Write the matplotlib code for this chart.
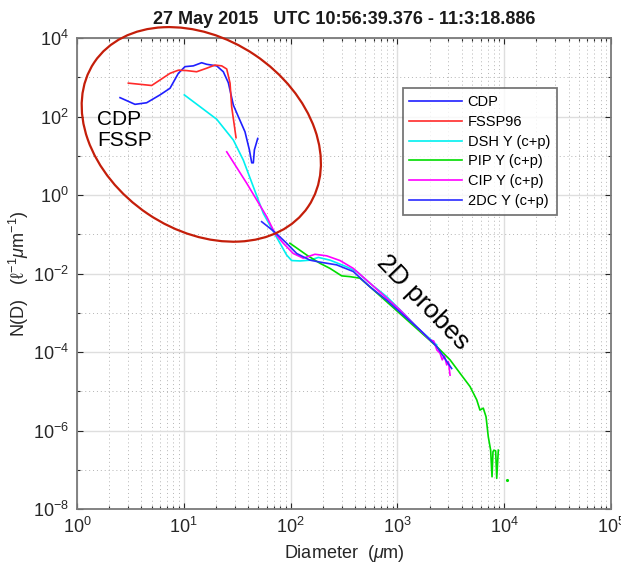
import numpy as np
import matplotlib
matplotlib.use("Agg")
import matplotlib.pyplot as plt
from matplotlib.patches import Ellipse
from matplotlib.ticker import LogLocator, NullFormatter

plt.rcParams["font.family"] = ["Liberation Sans", "DejaVu Sans"]
plt.rcParams["mathtext.fontset"] = "custom"
plt.rcParams["mathtext.rm"] = "Liberation Sans"
plt.rcParams["mathtext.it"] = "Liberation Sans:italic"
plt.rcParams["mathtext.default"] = "regular"

# ---- size distributions: log10(diameter / um) and log10(N(D)) ----
cdp_logd = [0.403, 0.543, 0.652, 0.777, 0.871, 0.949, 1.011, 1.089, 1.167, 1.214,
            1.308, 1.370, 1.417, 1.464, 1.510, 1.573, 1.614, 1.636, 1.651, 1.661, 1.692]
cdp_logn = [2.48, 2.31, 2.35, 2.55, 2.72, 3.10, 3.27, 3.29, 3.37, 3.33,
            3.29, 3.14, 2.86, 2.29, 2.00, 1.61, 1.15, 0.82, 0.82, 1.15, 1.44]

fssp_logd = [0.481, 0.699, 0.777, 0.871, 0.949, 1.027, 1.120, 1.214, 1.292, 1.355,
             1.402, 1.433, 1.448, 1.470, 1.489]
fssp_logn = [2.85, 2.79, 2.93, 3.10, 3.18, 3.17, 3.14, 3.23, 3.31, 3.29,
             3.21, 2.85, 2.25, 1.83, 1.46]

dsh_logd = [1.005, 1.152, 1.308, 1.464, 1.557, 1.651, 1.745, 1.838, 1.901, 1.963,
            2.010, 2.088, 2.182, 2.260, 2.369, 2.525, 2.619, 2.743, 2.900, 3.056,
            3.212, 3.368]
dsh_logn = [2.55, 2.25, 1.93, 1.40, 0.89, 0.21, -0.47, -0.93, -1.23, -1.53,
            -1.67, -1.68, -1.66, -1.59, -1.66, -1.83, -1.95, -2.25, -2.59, -3.01,
            -3.44, -3.82]

pip_logd = [1.994, 2.151, 2.275, 2.369, 2.478, 2.556, 2.650, 2.743, 2.900, 3.056,
            3.212, 3.368, 3.493, 3.586, 3.680, 3.743, 3.773, 3.804, 3.830, 3.851,
            3.873, 3.886, 3.895, 3.904, 3.920, 3.930, 3.945, np.nan, 4.029]
pip_logn = [-1.23, -1.53, -1.74, -1.87, -2.06, -2.08, -2.12, -2.34, -2.72, -3.10,
            -3.48, -3.86, -4.20, -4.54, -4.88, -5.22, -5.48, -5.43, -5.65, -6.16,
            -6.50, -7.18, -6.54, -6.50, -6.52, -7.22, -6.50, np.nan, -7.26]

cip_logd = [1.402, 1.589, 1.776, 1.854, 1.932, 2.025, 2.119, 2.228, 2.338, 2.463,
            2.587, 2.712, 2.868, 3.024, 3.180, 3.305, 3.340, 3.370, 3.399, 3.420,
            3.440, 3.462, 3.478, 3.493]
cip_logn = [1.10, 0.30, -0.55, -0.98, -1.23, -1.49, -1.61, -1.51, -1.55, -1.67,
            -1.87, -2.17, -2.55, -2.93, -3.36, -3.69, -3.72, -3.95, -4.03, -4.20,
            -4.10, -4.33, -4.25, -4.59]

dc2_logd = [1.729, 1.854, 1.963, 2.057, 2.182, 2.275, 2.431, 2.587, 2.743, 2.900,
            3.056, 3.212, 3.368, 3.508]
dc2_logn = [-0.68, -0.95, -1.23, -1.49, -1.66, -1.71, -1.78, -1.95, -2.34, -2.68,
            -3.06, -3.44, -3.86, -4.42]

series = [
    ("CDP", cdp_logd, cdp_logn, "#1f1fff"),
    ("FSSP96", fssp_logd, fssp_logn, "#ff2a2a"),
    ("DSH Y (c+p)", dsh_logd, dsh_logn, "#00f0f0"),
    ("PIP Y (c+p)", pip_logd, pip_logn, "#00dd00"),
    ("CIP Y (c+p)", cip_logd, cip_logn, "#ff00ff"),
    ("2DC Y (c+p)", dc2_logd, dc2_logn, "#2a2aff"),
]

fig = plt.figure(figsize=(6.21, 5.63), dpi=100)
fig.patch.set_facecolor("white")
ax = fig.add_axes([77 / 621, 1 - 509 / 563, 534 / 621, 471 / 563])

for name, ld, ln, col in series:
    d = 10 ** np.asarray(ld, dtype=float)
    n = 10 ** np.asarray(ln, dtype=float)
    ax.plot(d, n, "-", color=col, lw=1.2, label=name)
    # isolated samples (no neighbours to join) are shown as dots
    for i in range(len(d)):
        prev_ok = i > 0 and np.isfinite(d[i - 1])
        next_ok = i < len(d) - 1 and np.isfinite(d[i + 1])
        if np.isfinite(d[i]) and not prev_ok and not next_ok:
            ax.plot(d[i], n[i], ".", color=col, ms=2.5)

ax.set_xscale("log")
ax.set_yscale("log")
ax.set_xlim(1, 1e5)
ax.set_ylim(1e-8, 1e4)
ax.set_yticks([10.0 ** k for k in range(-8, 5, 2)])
ax.xaxis.set_minor_locator(LogLocator(base=10, subs=np.arange(2, 10), numticks=50))
ax.yaxis.set_minor_locator(LogLocator(base=10, subs=(1.0,), numticks=50))
ax.yaxis.set_minor_formatter(NullFormatter())
ax.xaxis.set_minor_formatter(NullFormatter())

ax.grid(True, which="major", color="#dedede", lw=1.0, ls="-")
ax.grid(True, which="minor", color="#b4b4b4", lw=0.7, ls=(0, (1, 3)))
ax.set_axisbelow(True)
for sp in ax.spines.values():
    sp.set_color("#7a7a7a")
    sp.set_linewidth(1.3)
ax.tick_params(which="both", direction="in", top=True, right=True,
               color="#262626", labelsize=13, labelcolor="#262626")
ax.tick_params(which="major", length=4, width=0.8, pad=6)
ax.tick_params(which="minor", length=2.5, width=0.8)

ax.set_xlabel(r"Diameter  ($\mathit{\mu}$m)", fontsize=13, color="#262626", labelpad=4)
ax.set_ylabel(r"N(D)   ($\ell^{-1}\mathit{\mu}$m$^{-1}$)", fontsize=13,
              color="#262626", labelpad=1)

fig.text(344 / 621, 1 - 20 / 563, "27 May 2015   UTC 10:56:39.376 - 11:3:18.886",
         ha="center", va="center", fontsize=13, fontweight="bold", color="#1a1a1a")

leg = ax.legend(loc="upper left", bbox_to_anchor=(0.61, 0.893), borderaxespad=0,
                fontsize=10.5, frameon=True, fancybox=False, handlelength=3.6,
                handletextpad=0.4, labelspacing=0.4, borderpad=0.45)
leg.get_frame().set_edgecolor("#555555")
leg.get_frame().set_linewidth(1.3)

ax.text(1.55, 45, "CDP\nFSSP", fontsize=15, ha="left", va="center", linespacing=1.1)
ax.text(1738, 1.88e-3, "2D probes", fontsize=19, rotation=-46,
        rotation_mode="anchor", ha="center", va="center")

# highlight around the forward-scattering probes
ring = Ellipse((201.3 / 100, (563 - 134.4) / 100), 2 * 1.29, 2 * 0.958, angle=-34,
               transform=fig.dpi_scale_trans, fill=False, edgecolor="#c41e0a",
               lw=1.6, clip_on=False)
fig.add_artist(ring)

fig.savefig("out.png", dpi=100)
